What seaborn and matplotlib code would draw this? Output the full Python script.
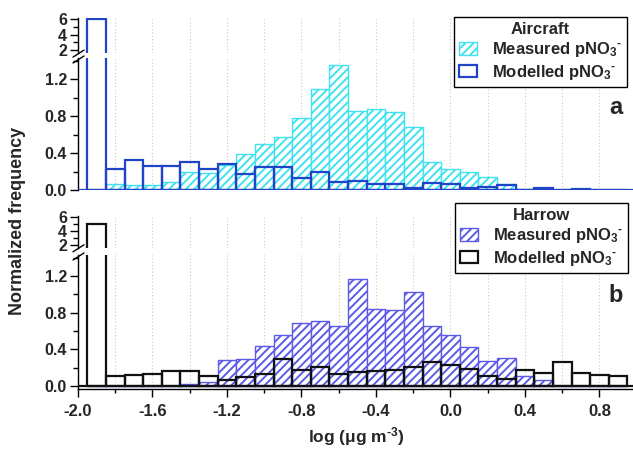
import numpy as np
import pandas as pd
import matplotlib
matplotlib.use("Agg")
import matplotlib.pyplot as plt
import matplotlib.ticker as mticker
from matplotlib.patches import Patch
from matplotlib.lines import Line2D
import seaborn as sns

# ---------------- data ----------------
bin_centers = [-1.9, -1.8, -1.7, -1.6, -1.5, -1.4, -1.3, -1.2, -1.1, -1.0,
               -0.9, -0.8, -0.7, -0.6, -0.5, -0.4, -0.3, -0.2, -0.1, 0.0,
               0.1, 0.2, 0.3, 0.4, 0.5, 0.6, 0.7, 0.8, 0.9]
bin_width = 0.1

aircraft_measured = [0.0, 0.07, 0.05, 0.05, 0.09, 0.20, 0.18, 0.27, 0.39, 0.50,
                     0.57, 0.78, 1.09, 1.35, 0.86, 0.88, 0.84, 0.68, 0.30, 0.23,
                     0.20, 0.14, 0.07, 0.01, 0.01, 0.0, 0.0, 0.0, 0.0]
aircraft_modelled = [6.0, 0.23, 0.33, 0.26, 0.26, 0.30, 0.23, 0.285, 0.17, 0.25,
                     0.25, 0.13, 0.20, 0.09, 0.10, 0.065, 0.07, 0.02, 0.08, 0.07,
                     0.02, 0.035, 0.055, 0.005, 0.025, 0.0, 0.01, 0.0, 0.0]
harrow_measured = [0.0, 0.0, 0.0, 0.0, 0.0, 0.02, 0.04, 0.285, 0.30, 0.44,
                   0.555, 0.685, 0.715, 0.65, 1.17, 0.84, 0.83, 1.03, 0.65, 0.555,
                   0.425, 0.275, 0.305, 0.115, 0.065, 0.0, 0.0, 0.0, 0.0]
harrow_modelled = [5.0, 0.115, 0.12, 0.135, 0.16, 0.16, 0.115, 0.065, 0.095, 0.135,
                   0.295, 0.18, 0.205, 0.135, 0.155, 0.165, 0.18, 0.205, 0.26, 0.235,
                   0.19, 0.11, 0.075, 0.175, 0.14, 0.265, 0.14, 0.12, 0.105]

x_ticks = [-2.0, -1.6, -1.2, -0.8, -0.4, 0.0, 0.4, 0.8]
low_yticks = [0.0, 0.4, 0.8, 1.2]
up_yticks = [2, 4, 6]

# ---------------- style ----------------
sns.set_theme(style="white")
plt.rcParams["font.family"] = ["Liberation Sans", "DejaVu Sans"]
plt.rcParams["font.weight"] = "bold"
plt.rcParams["mathtext.fontset"] = "custom"
plt.rcParams["mathtext.rm"] = "Liberation Sans:bold"
plt.rcParams["mathtext.it"] = "Liberation Sans:bold"
plt.rcParams["mathtext.bf"] = "Liberation Sans:bold"
plt.rcParams["mathtext.default"] = "rm"
plt.rcParams["hatch.linewidth"] = 1.4

c_air_meas = "#3fe3ef"
c_air_mod = "#1f44c8"
c_har_meas = "#5b5be8"
c_har_mod = "#111111"

edges = [round(-1.95 + i * bin_width, 3) for i in range(len(bin_centers) + 1)]

W, H = 633, 450
fig = plt.figure(figsize=(W / 100, H / 100), dpi=100)
L = 78 / W
AW = 1.0 - L
XLIM = (-2.0, 0.98)
TICK_FS = 11.5


def fa(top_px, bot_px):
    return fig.add_axes([L, 1 - bot_px / H, AW, (bot_px - top_px) / H])


def draw(ax, meas, mod, cm, cmod):
    df = pd.DataFrame({"x": bin_centers, "meas": meas, "mod": mod})
    sns.histplot(data=df, x="x", weights="meas", bins=edges, ax=ax, stat="count",
                 element="bars", fill=True, facecolor="white", edgecolor=cm,
                 hatch="////", linewidth=1.0, zorder=2)
    sns.histplot(data=df, x="x", weights="mod", bins=edges, ax=ax, stat="count",
                 element="bars", fill=False, color=cmod, linewidth=1.6, zorder=3)
    ax.set_xlim(*XLIM)
    ax.set_xlabel("")
    ax.set_ylabel("")
    ax.set_axisbelow(True)
    ax.xaxis.set_major_locator(mticker.FixedLocator(x_ticks))
    ax.xaxis.set_minor_locator(mticker.MultipleLocator(0.2))
    ax.grid(False)
    ax.grid(True, which="both", axis="x", color="#c8c8c8", linestyle=(0, (1, 2)),
            linewidth=0.8)
    for s in ["top", "right"]:
        ax.spines[s].set_visible(False)
    ax.spines["left"].set_color("black")
    ax.spines["left"].set_linewidth(1.0)
    ax.tick_params(axis="y", which="major", direction="out", length=6, width=1,
                   color="black", labelsize=TICK_FS, pad=2, left=True)
    ax.tick_params(axis="y", which="minor", direction="out", length=3.5, width=1,
                   color="black", left=True)


def make_panel(up_top, up_bot, lo_top, lo_bot, lo_ylim, meas, mod, cm, cmod, bottom_axis):
    up = fa(up_top, up_bot)
    lo = fa(lo_top, lo_bot)
    draw(up, meas, mod, cm, cmod)
    draw(lo, meas, mod, cm, cmod)
    up.set_ylim(1.6, 6.08)
    up.yaxis.set_major_locator(mticker.FixedLocator(up_yticks))
    up.yaxis.set_minor_locator(mticker.MultipleLocator(1))
    up.spines["bottom"].set_visible(False)
    up.tick_params(axis="x", which="both", bottom=False, labelbottom=False)
    lo.set_ylim(*lo_ylim)
    lo.yaxis.set_major_locator(mticker.FixedLocator(low_yticks))
    lo.yaxis.set_major_formatter(mticker.FormatStrFormatter("%.1f"))
    lo.yaxis.set_minor_locator(mticker.MultipleLocator(0.2))
    lo.axhline(0, color=cmod, linewidth=1.6, zorder=5)
    if bottom_axis:
        lo.spines["bottom"].set_color("black")
        lo.spines["bottom"].set_linewidth(1.0)
        lo.tick_params(axis="x", which="major", direction="out", length=6, width=1,
                       color="black", labelsize=12, pad=5, bottom=True)
        lo.tick_params(axis="x", which="minor", direction="out", length=3, width=1,
                       color="black", bottom=True)
        lo.xaxis.set_major_formatter(mticker.FormatStrFormatter("%.1f"))
    else:
        lo.spines["bottom"].set_visible(False)
        lo.tick_params(axis="x", which="both", bottom=False, labelbottom=False)
    # break marks
    for yb in (up_bot + 1, lo_top + 2):
        fig.add_artist(Line2D([73 / W, 84 / W], [1 - (yb + 3) / H, 1 - (yb - 4) / H],
                              color="black", linewidth=1.0))
    return up, lo


make_panel(18.4, 53.1, 58, 190, (0, 1.43), aircraft_measured, aircraft_modelled,
           c_air_meas, c_air_mod, False)
make_panel(216.1, 247.8, 255, 388.8, (-0.03, 1.43), harrow_measured, harrow_modelled,
           c_har_meas, c_har_mod, True)

# legends
def add_legend(title, cm, cmod, anchor):
    handles = [Patch(facecolor="white", edgecolor=cm, hatch="////", linewidth=1.0),
               Patch(facecolor="white", edgecolor=cmod, linewidth=1.6)]
    labels = [r"Measured pNO$_3$$^{\text{-}}$", r"Modelled pNO$_3$$^{\text{-}}$"]
    leg = fig.legend(handles, labels, title=title, loc="upper right",
                     bbox_to_anchor=anchor, frameon=True, fancybox=False,
                     edgecolor="black", framealpha=1, fontsize=12,
                     title_fontproperties={"weight": "bold", "size": 12},
                     handlelength=1.1, handleheight=0.75, handletextpad=0.9,
                     borderpad=0.3, labelspacing=0.2, borderaxespad=0)
    leg.get_frame().set_linewidth(1.0)
    return leg

add_legend("Aircraft", c_air_meas, c_air_mod, (627 / W, 1 - 17 / H))
add_legend("Harrow", c_har_meas, c_har_mod, (628 / W, 1 - 203 / H))

fig.text(616 / W, 1 - 108 / H, "a", fontsize=17, fontweight="bold", ha="center", va="center")
fig.text(616 / W, 1 - 295 / H, "b", fontsize=17, fontweight="bold", ha="center", va="center")

fig.text(18 / W, 0.509, "Normalized frequency", rotation=90, fontsize=13,
         fontweight="bold", ha="center", va="center")
fig.text(356 / W, 1 - 437 / H, r"log (μg m$^{\text{-3}}$)", fontsize=12.5, fontweight="bold",
         ha="center", va="center")

fig.savefig("out.png", dpi=100)
